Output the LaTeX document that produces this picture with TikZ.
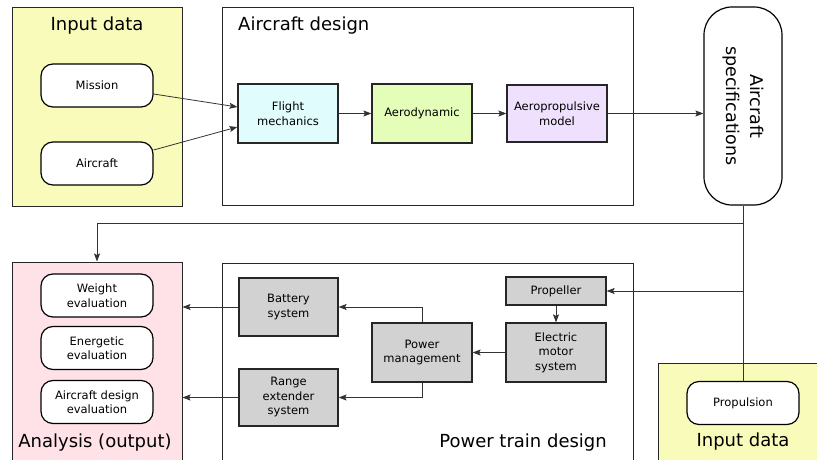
\documentclass[tikz,border=0pt]{standalone}
\usepackage{fontspec}
\setmainfont{DejaVu Sans}
\usepackage{xcolor}
\usepackage{tikz}
\usetikzlibrary{arrows.meta}
\definecolor{inyellow}{HTML}{F8FBBA}
\definecolor{outpink}{HTML}{FFE1E8}
\definecolor{flcyan}{HTML}{E0FCFC}
\definecolor{aegreen}{HTML}{E4FDB8}
\definecolor{aplilac}{HTML}{EFE0FD}
\begin{document}
\begin{tikzpicture}[x=1pt,y=-1pt,font=\fontsize{11.5}{14.5}\selectfont,
  area/.style={rectangle,draw=black!85,line width=1pt,inner sep=0pt},
  title/.style={font=\fontsize{18}{22}\selectfont,inner sep=0pt},
  pill/.style={rectangle,rounded corners=12pt,draw,line width=1.2pt,fill=white,align=center,minimum width=112pt,minimum height=43pt,inner sep=0pt},
  blk/.style={rectangle,draw=black!85,line width=1.2pt,align=center,minimum width=100pt,minimum height=59pt,inner sep=0pt},
  gblk/.style={blk,fill=gray!35},
  ar/.style={-{Stealth[length=8pt,width=6pt,inset=1.5pt]},line width=0.8pt,draw=black!80},
  ln/.style={line width=0.8pt,draw=black!80}]
  \useasboundingbox (0,0) rectangle (817,460);
  \clip (0,0) rectangle (817,460);
  \node[area,fill=inyellow,minimum width=170pt,minimum height=198pt] (inleft) at (97,107) {};
  \node[area,minimum width=411pt,minimum height=197pt] (design) at (427.5,106.5) {};
  \node[area,fill=outpink,minimum width=170pt,minimum height=218pt] (anal) at (97,371) {};
  \node[area,minimum width=411pt,minimum height=217pt] (power) at (427.5,371.5) {};
  \node[area,fill=inyellow,minimum width=180pt,minimum height=118pt] (inright) at (748,422) {};
  \node[title] (inlefttxt) at (97,26) {Input data};
  \node[title,anchor=west] (designtxt) at (238,26) {Aircraft design};
  \node[title] (analtxt) at (95,443) {Analysis (output)};
  \node[title,anchor=east] (powertxt) at (607,443) {Power train design};
  \node[title] (inrighttxt) at (743,442) {Input data};
  \node[pill] (mission) at (97,85.5) {Mission};
  \node[pill] (acin) at (97,163.5) {Aircraft};
  \node[blk,fill=flcyan] (flight) at (288,113.5) {Flight\\mechanics};
  \node[blk,fill=aegreen] (aero) at (422,113.5) {Aerodynamic};
  \node[blk,fill=aplilac,minimum height=57pt] (aeroprop) at (557,113.5) {Aeropropulsive\\model};
  \node[rectangle,rounded corners=28pt,draw,line width=1.2pt,fill=white,minimum width=78pt,minimum height=198pt] (spec) at (743,106) {};
  \node[rotate=-90,align=center,font=\fontsize{17.5}{24}\selectfont] (spectxt) at (spec) {Aircraft\\specifications};
  \node[pill] (weight) at (97,295.5) {Weight\\evaluation};
  \node[pill] (energy) at (97,348) {Energetic\\evaluation};
  \node[pill] (acdes) at (97,402) {Aircraft design\\evaluation};
  \node[gblk,minimum width=99pt,minimum height=58pt] (battery) at (288.5,307) {Battery\\system};
  \node[gblk,minimum width=99pt,minimum height=57pt] (range) at (288.5,397.5) {Range\\extender\\system};
  \node[gblk] (pm) at (422,352.5) {Power\\management};
  \node[gblk,minimum height=28pt] (propeller) at (556,291) {Propeller};
  \node[gblk] (motor) at (556,352.5) {Electric\\motor\\system};
  \node[pill] (propin) at (743,403) {Propulsion};
  \coordinate (fork) at (743,223);
  \draw[ar] ([yshift=-8.5pt]mission.east) -- ([yshift=6.5pt]flight.west);
  \draw[ar] ([yshift=13.5pt]acin.east) -- ([yshift=-13.5pt]flight.west);
  \draw[ar] (flight) -- (aero);
  \draw[ar] (aero) -- (aeroprop);
  \draw[ar] (aeroprop.east) -- (aeroprop.east -| spec.west);
  \draw[ln] (spec.south) -- (propin.north);
  \draw[ar] (fork) -| (anal.north);
  \draw[ar] (propeller.east -| fork) -- (propeller.east);
  \draw[ar] (propeller) -- (motor);
  \draw[ar] (motor) -- (pm);
  \draw[ar] (pm.north) |- (battery.east);
  \draw[ar] (pm.south) |- (range.east);
  \draw[ar] (battery.west) -- (battery.west -| anal.east);
  \draw[ar] (range.west) -- (range.west -| anal.east);
\end{tikzpicture}
\end{document}
